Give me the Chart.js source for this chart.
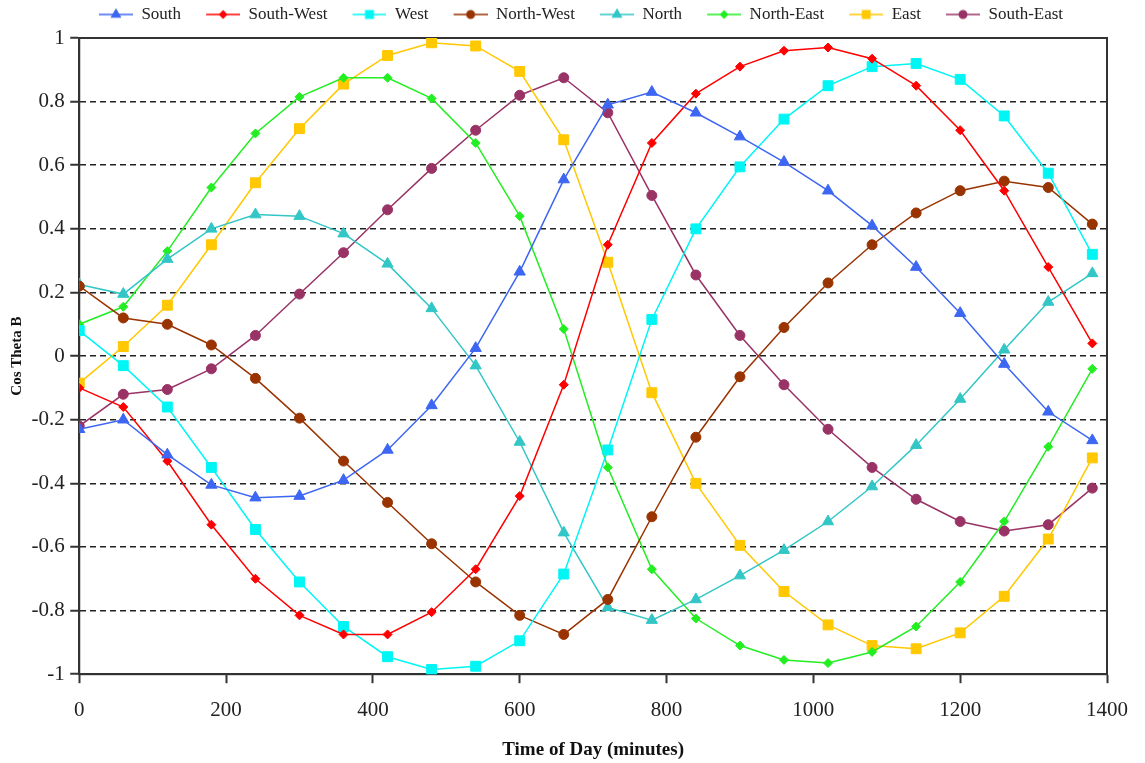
<!DOCTYPE html>
<html>
<head>
<meta charset="utf-8">
<script src="https://cdn.jsdelivr.net/npm/chart.js@4.4.1/dist/chart.umd.min.js"></script>
<style>
  html, body { margin: 0; padding: 0; background: #fff; }
  #wrap { width: 1145px; height: 763px; position: relative; }
</style>
</head>
<body>
<div id="wrap"><canvas id="chart"></canvas></div>
<script>
const minutes = [0, 60, 120, 180, 240, 300, 360, 420, 480, 540, 600, 660,
                 720, 780, 840, 900, 960, 1020, 1080, 1140, 1200, 1260, 1320, 1380];

const south     = [-0.23, -0.2, -0.31, -0.405, -0.445, -0.44, -0.39, -0.295, -0.155, 0.025, 0.265, 0.555,
                   0.79, 0.83, 0.765, 0.69, 0.61, 0.52, 0.41, 0.28, 0.135, -0.025, -0.175, -0.265];
const southWest = [-0.1, -0.16, -0.33, -0.53, -0.7, -0.815, -0.875, -0.875, -0.805, -0.67, -0.44, -0.09,
                   0.35, 0.67, 0.825, 0.91, 0.96, 0.97, 0.935, 0.85, 0.71, 0.52, 0.28, 0.04];
const west      = [0.08, -0.03, -0.16, -0.35, -0.545, -0.71, -0.85, -0.945, -0.985, -0.975, -0.895, -0.685,
                   -0.295, 0.115, 0.4, 0.595, 0.745, 0.85, 0.91, 0.92, 0.87, 0.755, 0.575, 0.32];
const northWest = [0.22, 0.12, 0.1, 0.035, -0.07, -0.195, -0.33, -0.46, -0.59, -0.71, -0.815, -0.875,
                   -0.765, -0.505, -0.255, -0.065, 0.09, 0.23, 0.35, 0.45, 0.52, 0.55, 0.53, 0.415];
const north     = [0.225, 0.195, 0.305, 0.4, 0.445, 0.44, 0.385, 0.29, 0.15, -0.03, -0.27, -0.555,
                   -0.79, -0.83, -0.765, -0.69, -0.61, -0.52, -0.41, -0.28, -0.135, 0.02, 0.17, 0.26];
const northEast = [0.1, 0.155, 0.33, 0.53, 0.7, 0.815, 0.875, 0.875, 0.81, 0.67, 0.44, 0.085,
                   -0.35, -0.67, -0.825, -0.91, -0.955, -0.965, -0.93, -0.85, -0.71, -0.52, -0.285, -0.04];
const east      = [-0.085, 0.03, 0.16, 0.35, 0.545, 0.715, 0.855, 0.945, 0.985, 0.975, 0.895, 0.68,
                   0.295, -0.115, -0.4, -0.595, -0.74, -0.845, -0.91, -0.92, -0.87, -0.755, -0.575, -0.32];
const southEast = [-0.22, -0.12, -0.105, -0.04, 0.065, 0.195, 0.325, 0.46, 0.59, 0.71, 0.82, 0.875,
                   0.765, 0.505, 0.255, 0.065, -0.09, -0.23, -0.35, -0.45, -0.52, -0.55, -0.53, -0.415];

const seriesNames = ['South', 'South-West', 'West', 'North-West', 'North', 'North-East', 'East', 'South-East'];
const seriesData = [south, southWest, west, northWest, north, northEast, east, southEast];
const seriesColors = ['#3d66f2', '#ff0000', '#00f5f5', '#993300', '#33c6c6', '#22ee22', '#ffc800', '#993366'];
const seriesMarkers = ['triangle', 'rectRot', 'rect', 'circle', 'triangle', 'rectRot', 'rect', 'circle'];
const markerSizes = [6.5, 4.5, 7, 5, 6.5, 4.5, 7, 5];

const FONT = "'Liberation Serif', 'Times New Roman', serif";

// legend swatch: short line with the marker in the middle
function legendIcon(color, style, r) {
  const c = document.createElement('canvas');
  c.width = 53; c.height = 16;
  const g = c.getContext('2d');
  g.strokeStyle = color; g.fillStyle = color; g.lineWidth = 1.5;
  g.beginPath(); g.moveTo(19, 8); g.lineTo(53, 8); g.stroke();
  Chart.helpers.drawPoint(g, {pointStyle: style, radius: r, borderWidth: 1, rotation: 0}, 36, 8);
  return c;
}
const icons = seriesColors.map((c, i) => legendIcon(c, seriesMarkers[i], markerSizes[i] * 0.75));

const frame = {
  id: 'frame',
  beforeDatasetsDraw(chart) {
    const {ctx, chartArea: a} = chart;
    ctx.save();
    ctx.strokeStyle = '#333';
    ctx.lineWidth = 2;
    ctx.strokeRect(a.left, a.top, a.right - a.left, a.bottom - a.top);
    ctx.restore();
  }
};

new Chart(document.getElementById('chart'), {
  type: 'line',
  data: {
    datasets: seriesNames.map((name, i) => ({
      label: name,
      data: minutes.map((m, j) => ({x: m, y: seriesData[i][j]})),
      borderColor: seriesColors[i],
      backgroundColor: seriesColors[i],
      borderWidth: 1.5,
      pointStyle: seriesMarkers[i],
      pointRadius: markerSizes[i],
      pointBorderWidth: 1,
      tension: 0,
      fill: false
    }))
  },
  options: {
    responsive: true,
    maintainAspectRatio: false,
    animation: false,
    layout: { padding: { left: 8, right: 10, top: 0, bottom: 2 } },
    plugins: {
      legend: {
        position: 'top',
        labels: {
          font: { family: FONT, size: 17 },
          color: '#222',
          usePointStyle: true,
          pointStyleWidth: 53,
          padding: 6,
          generateLabels(chart) {
            const items = Chart.defaults.plugins.legend.labels.generateLabels(chart);
            items.forEach(it => { it.pointStyle = icons[it.datasetIndex]; });
            return items;
          }
        }
      },
      // empty title used as a small gap between legend and plot
      title: { display: true, text: '', weight: 500, font: { size: 1, lineHeight: 1 }, padding: { top: 0, bottom: 4 } },
      tooltip: { enabled: false }
    },
    scales: {
      x: {
        type: 'linear',
        min: 0, max: 1400,
        ticks: { stepSize: 200, font: { family: FONT, size: 21, lineHeight: 1 }, color: '#222', padding: 17, maxRotation: 0,
                 callback: v => String(v) },
        grid: { drawOnChartArea: false, drawTicks: true, tickLength: 9, tickColor: '#333', tickWidth: 2 },
        border: { display: true, color: '#333', width: 2 },
        title: { display: true, text: 'Time of Day (minutes)', font: { family: FONT, size: 19, weight: 'bold' }, color: '#111', padding: { top: 0, bottom: 0 } }
      },
      y: {
        min: -1, max: 1,
        ticks: { stepSize: 0.2, font: { family: FONT, size: 21 }, color: '#222', padding: 5.5,
                 callback: v => String(Math.round(v * 10) / 10) },
        grid: { color: '#222', lineWidth: 1.5, tickLength: 9, tickColor: '#333', tickWidth: 2, tickBorderDash: [] },
        border: { display: true, color: '#333', width: 2, dash: [6, 4] },
        title: { display: true, text: 'Cos Theta B', font: { family: FONT, size: 15, weight: 'bold' }, color: '#111', padding: { top: 0, bottom: 0 } }
      }
    }
  },
  plugins: [frame]
});
</script>
</body>
</html>
